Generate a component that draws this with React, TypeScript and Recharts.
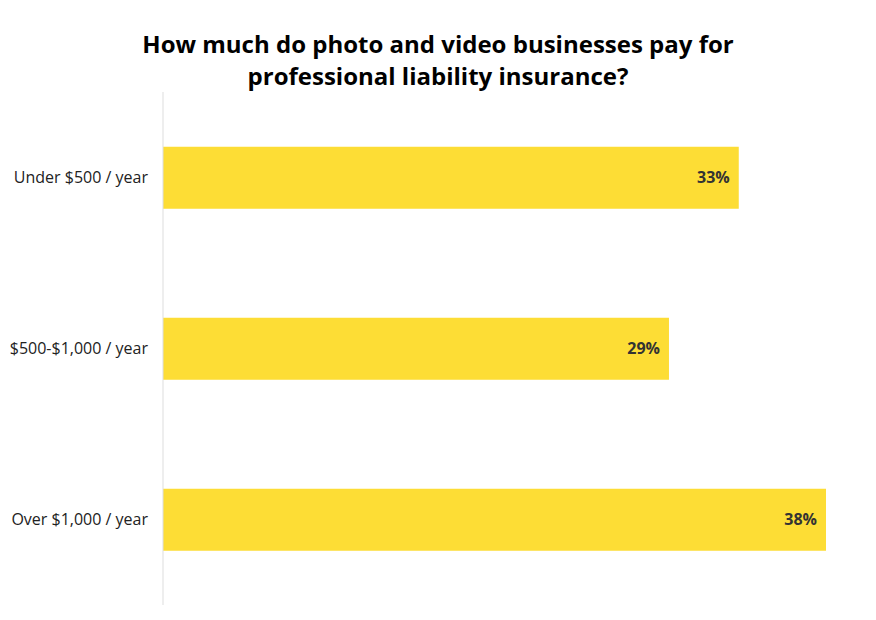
import { BarChart, Bar, XAxis, YAxis, LabelList } from "recharts"

const categories = ["Under $500 / year", "$500-$1,000 / year", "Over $1,000 / year"]
const shares = [33, 29, 38]

const data = categories.map((name, i) => ({ name, share: shares[i] }))

const font = "'Open Sans', sans-serif"

export default function App() {
  return (
    <div style={{ position: "relative", width: 860, height: 604, fontFamily: font }}>
      <div
        style={{
          position: "absolute",
          top: 20,
          left: 0,
          width: 860,
          textAlign: "center",
          fontSize: 24,
          fontWeight: 700,
          lineHeight: "32px",
          color: "#000",
        }}
      >
        How much do photo and video businesses pay for
        <br />
        professional liability insurance?
      </div>
      <BarChart
        width={860}
        height={604}
        data={data}
        layout="vertical"
        margin={{ top: 84, right: 42, left: 0, bottom: 7 }}
        barCategoryGap="32%"
      >
        <XAxis type="number" domain={[0, 38]} hide />
        <YAxis
          type="category"
          dataKey="name"
          width={155}
          axisLine={{ stroke: "#dddddd" }}
          tickLine={false}
          tickSize={0}
          tickMargin={15}
          tick={{ fill: "#222", fontSize: 16, fontFamily: font }}
        />
        <Bar dataKey="share" fill="#fddd35" isAnimationActive={false}>
          <LabelList
            dataKey="share"
            position="insideRight"
            offset={9}
            formatter={(v: number) => `${v}%`}
            style={{ fill: "#333", fontSize: 16, fontWeight: 700, fontFamily: font }}
          />
        </Bar>
      </BarChart>
    </div>
  )
}
